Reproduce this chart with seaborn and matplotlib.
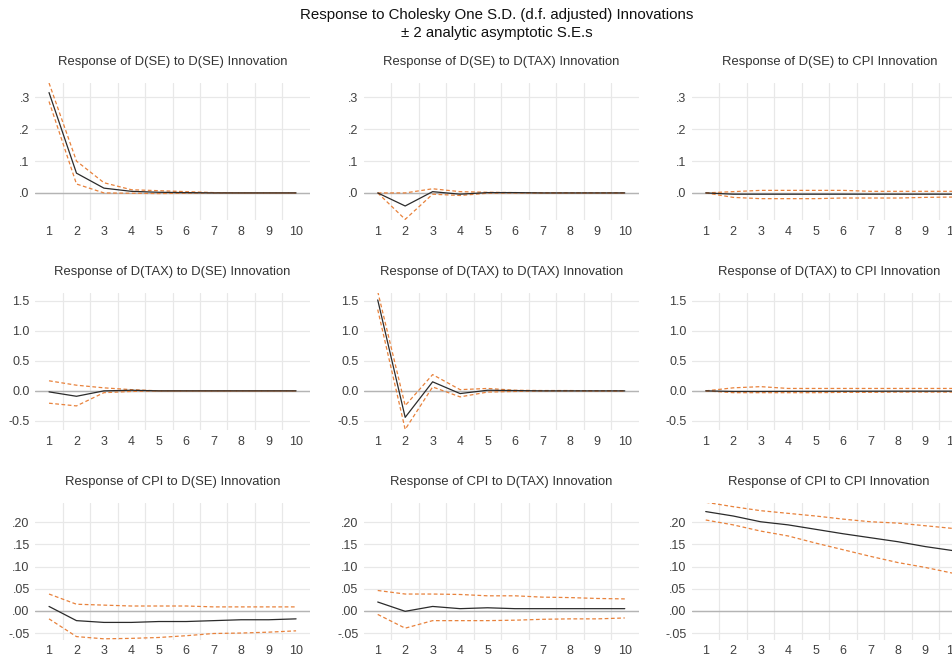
import numpy as np
import pandas as pd
import matplotlib
matplotlib.use("Agg")
import matplotlib.pyplot as plt
import seaborn as sns

# DATA
periods = list(range(1, 11))
variables = ["D(SE)", "D(TAX)", "CPI"]

# response of row variable to column innovation: (response, upper, lower)
se_se = [0.315, 0.062, 0.015, 0.005, 0.002, 0.001, 0.0, 0.0, 0.0, 0.0]
se_se_hi = [0.345, 0.100, 0.032, 0.010, 0.007, 0.004, 0.001, 0.0, 0.0, 0.0]
se_se_lo = [0.287, 0.028, 0.000, -0.001, -0.002, -0.001, 0.0, 0.0, 0.0, 0.0]

se_tax = [0.0, -0.041, 0.004, -0.004, 0.001, 0.001, 0.0, 0.0, 0.0, 0.0]
se_tax_hi = [0.0, 0.0, 0.013, 0.004, 0.002, 0.001, 0.0, 0.0, 0.0, 0.0]
se_tax_lo = [0.0, -0.083, -0.004, -0.008, -0.001, 0.0, 0.0, 0.0, 0.0, 0.0]

se_cpi = [0.0, -0.004, -0.004, -0.004, -0.004, -0.004, -0.004, -0.004, -0.004, -0.004]
se_cpi_hi = [0.0, 0.004, 0.008, 0.008, 0.008, 0.008, 0.005, 0.005, 0.005, 0.005]
se_cpi_lo = [0.0, -0.014, -0.018, -0.018, -0.018, -0.016, -0.016, -0.016, -0.014, -0.013]

tax_se = [-0.017, -0.09, 0.0, 0.01, 0.0, 0.0, 0.0, 0.0, 0.0, 0.0]
tax_se_hi = [0.167, 0.094, 0.05, 0.02, 0.0, 0.0, 0.0, 0.0, 0.0, 0.0]
tax_se_lo = [-0.205, -0.25, -0.03, -0.01, 0.0, 0.0, 0.0, 0.0, 0.0, 0.0]

tax_tax = [1.51, -0.44, 0.15, -0.045, 0.01, 0.005, 0.0, 0.0, 0.0, 0.0]
tax_tax_hi = [1.65, -0.245, 0.27, 0.02, 0.04, 0.01, 0.005, 0.005, 0.0, 0.0]
tax_tax_lo = [1.35, -0.64, 0.065, -0.10, -0.02, -0.01, 0.0, 0.0, 0.0, 0.0]

tax_cpi = [0.0, -0.01, -0.01, -0.008, -0.008, -0.006, -0.006, -0.005, -0.005, -0.005]
tax_cpi_hi = [0.0, 0.05, 0.07, 0.04, 0.04, 0.04, 0.04, 0.04, 0.04, 0.04]
tax_cpi_lo = [0.0, -0.03, -0.03, -0.03, -0.03, -0.025, -0.025, -0.02, -0.02, -0.02]

cpi_se = [0.010, -0.022, -0.026, -0.026, -0.024, -0.024, -0.022, -0.020, -0.020, -0.018]
cpi_se_hi = [0.038, 0.015, 0.013, 0.011, 0.011, 0.011, 0.009, 0.009, 0.009, 0.009]
cpi_se_lo = [-0.018, -0.058, -0.063, -0.062, -0.060, -0.056, -0.051, -0.050, -0.048, -0.045]

cpi_tax = [0.020, -0.001, 0.010, 0.005, 0.007, 0.005, 0.005, 0.005, 0.005, 0.005]
cpi_tax_hi = [0.046, 0.038, 0.038, 0.037, 0.034, 0.034, 0.031, 0.030, 0.028, 0.027]
cpi_tax_lo = [-0.008, -0.039, -0.022, -0.022, -0.022, -0.021, -0.019, -0.018, -0.018, -0.016]

cpi_cpi = [0.224, 0.214, 0.201, 0.194, 0.184, 0.174, 0.165, 0.156, 0.145, 0.136]
cpi_cpi_hi = [0.245, 0.235, 0.226, 0.220, 0.214, 0.207, 0.201, 0.198, 0.192, 0.186]
cpi_cpi_lo = [0.205, 0.194, 0.180, 0.169, 0.153, 0.138, 0.123, 0.109, 0.098, 0.085]

panels = [
    [(se_se, se_se_hi, se_se_lo), (se_tax, se_tax_hi, se_tax_lo), (se_cpi, se_cpi_hi, se_cpi_lo)],
    [(tax_se, tax_se_hi, tax_se_lo), (tax_tax, tax_tax_hi, tax_tax_lo), (tax_cpi, tax_cpi_hi, tax_cpi_lo)],
    [(cpi_se, cpi_se_hi, cpi_se_lo), (cpi_tax, cpi_tax_hi, cpi_tax_lo), (cpi_cpi, cpi_cpi_hi, cpi_cpi_lo)],
]

row_ticks = [
    [0.0, 0.1, 0.2, 0.3],
    [-0.5, 0.0, 0.5, 1.0, 1.5],
    [-0.05, 0.0, 0.05, 0.10, 0.15, 0.20],
]
row_ticklabels = [
    [".0", ".1", ".2", ".3"],
    ["-0.5", "0.0", "0.5", "1.0", "1.5"],
    ["-.05", ".00", ".05", ".10", ".15", ".20"],
]
row_ylim = [(-0.085, 0.345), (-0.655, 1.62), (-0.065, 0.244)]

# STYLE
sns.set_theme(style="white")
plt.rcParams["font.family"] = ["Liberation Sans", "DejaVu Sans"]

orange = "#E8823C"
dark = "#2b2b2b"

W, H = 953, 658
fig = plt.figure(figsize=(W / 100, H / 100), dpi=100)

col_left = [35.3, 364.0, 692.0]
col_w = 274.5
row_top = [83.0, 293.3, 502.7]
row_h = 137.0

for i in range(3):
    for j in range(3):
        l = col_left[j] / W
        b = 1 - (row_top[i] + row_h) / H
        ax = fig.add_axes([l, b, col_w / W, row_h / H])
        resp, hi, lo = panels[i][j]
        df = pd.DataFrame({"period": periods, "resp": resp, "hi": hi, "lo": lo})

        ax.axhline(0, color="#b4b4b4", lw=1.0, zorder=1)
        sns.lineplot(data=df, x="period", y="hi", ax=ax, color=orange, lw=0.9,
                     linestyle=(0, (3, 2)), zorder=3)
        sns.lineplot(data=df, x="period", y="lo", ax=ax, color=orange, lw=0.9,
                     linestyle=(0, (3, 2)), zorder=3)
        sns.lineplot(data=df, x="period", y="resp", ax=ax, color=dark, lw=0.9, zorder=4)

        ax.set_xlim(0.5, 10.5)
        ax.set_ylim(*row_ylim[i])
        ax.set_xticks(periods)
        ax.set_xticks(np.arange(1.5, 10.5, 1.0), minor=True)
        ax.set_yticks(row_ticks[i])
        ax.set_yticklabels(row_ticklabels[i])
        ax.grid(False)
        ax.grid(True, which="minor", axis="x", color="#e8e8e8", lw=0.9)
        ax.grid(True, which="major", axis="y", color="#e8e8e8", lw=0.9)
        ax.tick_params(axis="both", which="both", length=0, labelsize=9,
                       colors="#404040", pad=4)
        for s in ax.spines.values():
            s.set_visible(False)
        ax.set_xlabel("")
        ax.set_ylabel("")
        ax.set_title(f"Response of {variables[i]} to {variables[j]} Innovation",
                     fontsize=9.4, color="#333333", pad=13)

fig.text(497 / W, 1 - 15 / H, "Response to Cholesky One S.D. (d.f. adjusted) Innovations",
         ha="center", va="center", fontsize=10.8, color="#111111")
fig.text(497 / W, 1 - 33 / H, "± 2 analytic asymptotic S.E.s",
         ha="center", va="center", fontsize=10.8, color="#111111")

fig.savefig("out.png", dpi=100)
